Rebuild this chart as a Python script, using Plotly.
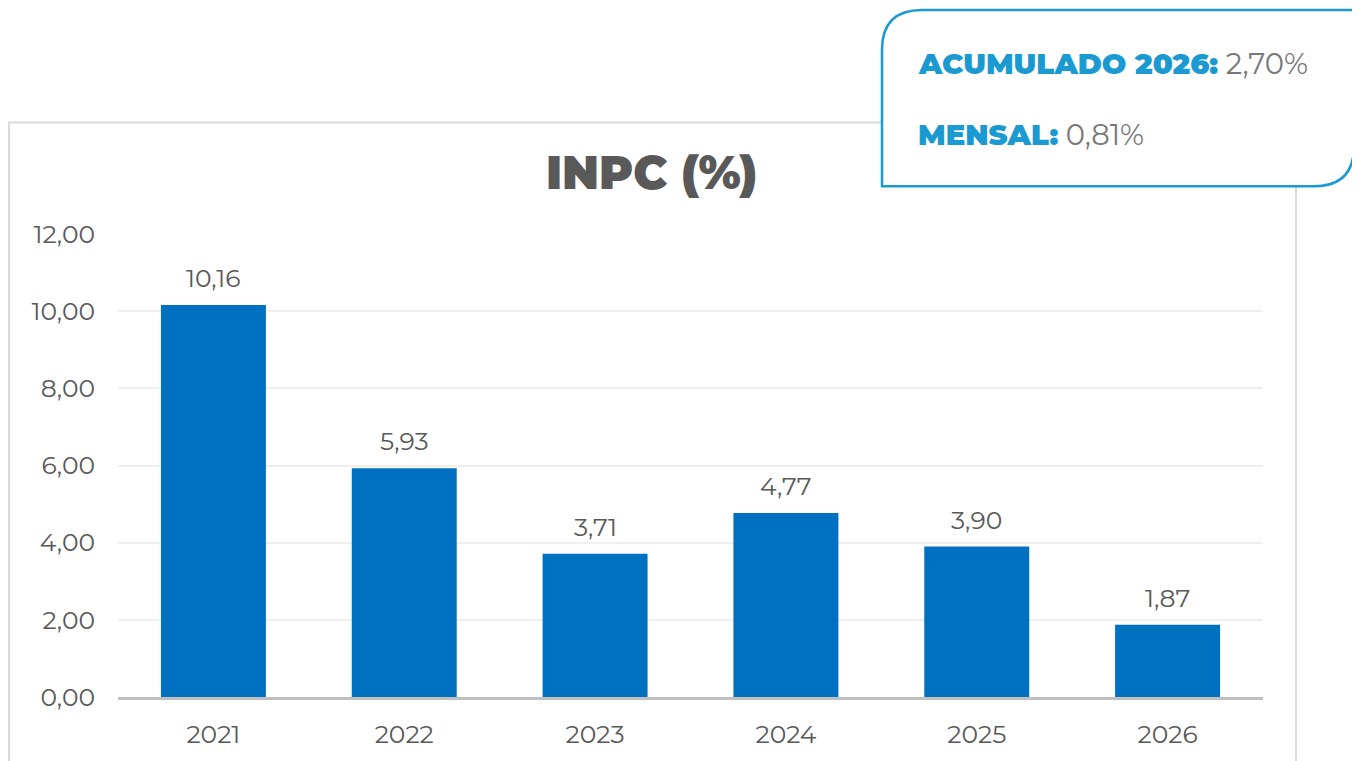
import plotly.graph_objects as go

anos = ["2021", "2022", "2023", "2024", "2025", "2026"]
inpc = [10.16, 5.93, 3.71, 4.77, 3.90, 1.87]
acumulado_2026 = 2.70
mensal = 0.81

OFF = 8  # page body margin
W, H = 1360 - OFF, 761 - OFF
L, R, T, B = 118 - OFF, 1263 - OFF, 234 - OFF, 699 - OFF  # plot area in figure pixels

def px(x):
    return (x - OFF - L) / (R - L)

def py(y):
    return (B - (y - OFF)) / (B - T)

def br(v):
    return f"{v:.2f}".replace(".", ",")

FONT = "Montserrat, 'Open Sans', Lato, sans-serif"
GRAY = "#595959"
BLUE = "#1a9ad0"

pos = list(range(len(anos)))

fig = go.Figure()
fig.add_trace(go.Bar(
    x=pos, y=inpc,
    marker=dict(color="#0070c0", line=dict(width=0)),
    width=0.55,
    customdata=anos,
    hovertemplate="%{customdata}: %{y:.2f}<extra></extra>",
))

annotations = []
for i, v in zip(pos, inpc):
    annotations.append(dict(
        x=i, y=v, xref="x", yref="y", text=br(v), showarrow=False,
        yanchor="bottom", yshift=10,
        font=dict(family=FONT, size=25, color=GRAY),
    ))

# title
annotations.append(dict(
    x=px(651), y=py(172), xref="paper", yref="paper", text="INPC (%)",
    showarrow=False, xanchor="center", yanchor="middle",
    font=dict(family=FONT, size=46, color=GRAY, weight=900),
))

# callout text
annotations.append(dict(
    x=px(916), y=py(63), xref="paper", yref="paper", xanchor="left", yanchor="middle",
    showarrow=False,
    text=f"<span style='color:{BLUE};font-weight:900'>ACUMULADO 2026:</span> "
         f"<span style='color:#787878;font-weight:400'>{br(acumulado_2026)}%</span>",
    font=dict(family=FONT, size=29, color=BLUE),
))
annotations.append(dict(
    x=px(916), y=py(134), xref="paper", yref="paper", xanchor="left", yanchor="middle",
    showarrow=False,
    text=f"<span style='color:{BLUE};font-weight:900'>MENSAL:</span> "
         f"<span style='color:#787878;font-weight:400'>{br(mensal)}%</span>",
    font=dict(family=FONT, size=29, color=BLUE),
))

# callout rounded box path (rounded top-left and bottom-right)
x0, y0, x1, y1, r = 882, 9, 1354, 186, 40
path = (
    f"M {px(x0)},{py(y0 + r)} "
    f"Q {px(x0)},{py(y0)} {px(x0 + r)},{py(y0)} "
    f"L {px(x1)},{py(y0)} "
    f"L {px(x1)},{py(y1 - r)} "
    f"Q {px(x1)},{py(y1)} {px(x1 - r)},{py(y1)} "
    f"L {px(x0)},{py(y1)} Z"
)

shapes = [
    dict(type="rect", xref="paper", yref="paper",
         x0=px(9), x1=px(1296), y0=py(122), y1=py(790),
         line=dict(color="#d9d9d9", width=2), layer="below"),
    dict(type="path", xref="paper", yref="paper", path=path,
         fillcolor="white", line=dict(color=BLUE, width=2.5), layer="above"),
]

fig.update_layout(
    width=W, height=H,
    margin=dict(l=L, r=W - R, t=T, b=H - B),
    paper_bgcolor="white", plot_bgcolor="white",
    separators=",.",
    showlegend=False,
    annotations=annotations,
    shapes=shapes,
    font=dict(family=FONT, color=GRAY),
)
fig.update_yaxes(
    range=[0, 12], dtick=2, tickformat=".2f",
    showgrid=True, gridcolor="#efefef", gridwidth=2,
    zeroline=False, showline=False, ticks="",
    tickfont=dict(family=FONT, size=25, color=GRAY),
    ticklabelstandoff=22,
)
fig.update_xaxes(
    range=[-0.5, len(anos) - 0.5],
    tickmode="array", tickvals=pos, ticktext=anos,
    showline=True, linecolor="#bfbfbf", linewidth=3,
    ticks="", showgrid=False, zeroline=False,
    tickfont=dict(family=FONT, size=25, color=GRAY),
    ticklabelstandoff=13,
)

fig.write_html("out.html")
